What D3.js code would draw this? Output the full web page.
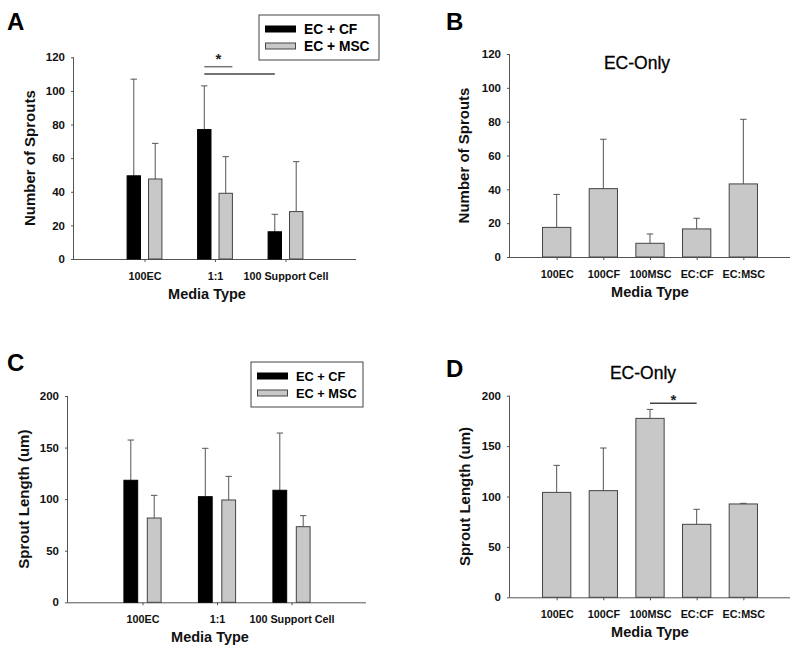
<!DOCTYPE html>
<html>
<head>
<meta charset="utf-8">
<script src="https://cdn.jsdelivr.net/npm/d3@7"></script>
<style>
  html, body { margin: 0; padding: 0; background: #fff; }
  svg { display: block; font-family: "Liberation Sans", Arial, sans-serif; }
</style>
</head>
<body>
<svg id="chart" width="800" height="658"></svg>
<script>
// ---------- DATA ----------
const mixedCategories = ["100EC", "1:1", "100 Support Cell"];
const ecOnlyCategories = ["100EC", "100CF", "100MSC", "EC:CF", "EC:MSC"];
const seriesNames = ["EC + CF", "EC + MSC"];

// Panel A: number of sprouts (mean, SD)
const sproutsCF = [49.5, 77.0, 16.2];
const sproutsCFErr = [57.5, 26.0, 10.4];
const sproutsMSC = [47.6, 39.1, 28.2];
const sproutsMSCErr = [21.2, 21.8, 29.7];

// Panel B: EC-only number of sprouts
const sproutsEC = [17.5, 40.4, 8.1, 16.6, 43.2];
const sproutsECErr = [19.5, 29.2, 5.5, 6.3, 38.2];

// Panel C: sprout length (um)
const lengthCF = [118.3, 102.4, 108.6];
const lengthCFErr = [39.0, 46.9, 55.5];
const lengthMSC = [81.7, 99.2, 73.3];
const lengthMSCErr = [22.0, 22.9, 10.7];

// Panel D: EC-only sprout length (um)
const lengthEC = [104.1, 105.8, 177.5, 72.4, 92.6];
const lengthECErr = [26.8, 42.3, 8.9, 14.9, 0.6];

const sproutTicks = [0, 20, 40, 60, 80, 100, 120];
const lengthTicks = [0, 50, 100, 150, 200];

// significance brackets: [fromCategory, fromSeries, toCategory, toSeries, yValue, colour]
const sigA = [
  ["1:1", 0, "1:1", 1, 114.4, "#777"],
  ["1:1", 0, "100 Support Cell", 0, 110.0, "#444"]
];
const sigD = [
  ["100MSC", 0, "EC:CF", 0, 192.4, "#444"]
];

// ---------- DRAWING ----------
const svg = d3.select("#chart");
const FONT = "'Liberation Sans', Arial, sans-serif";
const GRAY = "#c8c8c8";
const AXIS = "#555";

function drawPanel(cfg) {
  const g = svg.append("g");
  const x = d3.scalePoint().domain(cfg.categories).range([cfg.x0, cfg.x1]).padding(1);
  const y = d3.scaleLinear().domain([0, cfg.ymax]).range([cfg.y0, cfg.y1]);
  const step = x.step();

  // axes
  const yAxis = d3.axisLeft(y).tickValues(cfg.ticks).tickSize(3).tickPadding(6).tickFormat(d3.format("d"));
  const ya = g.append("g").attr("transform", `translate(${cfg.x0},0)`).call(yAxis)
    .attr("font-family", FONT).attr("font-size", 11.5).attr("font-weight", "bold");
  ya.select(".domain").attr("stroke", AXIS).attr("d", `M-0.5,${cfg.y0}V${cfg.y1}`);
  ya.selectAll(".tick line").attr("stroke", AXIS);
  ya.selectAll(".tick text").attr("fill", "#111");

  const xAxis = d3.axisBottom(x).tickSize(3).tickPadding(10);
  const xa = g.append("g").attr("transform", `translate(0,${cfg.y0})`).call(xAxis)
    .attr("font-family", FONT).attr("font-size", 10.8).attr("font-weight", "bold");
  xa.select(".domain").attr("stroke", AXIS).attr("d", `M${cfg.x0},0.5H${cfg.x1}`);
  xa.selectAll(".tick line").attr("stroke", AXIS);
  xa.selectAll(".tick text").attr("fill", "#111");

  // bars
  const nS = cfg.series.length;
  const bw = step * cfg.barFrac;
  const off = (si) => nS === 1 ? 0 : (si === 0 ? -1 : 1) * step * cfg.offFrac;
  cfg.series.forEach((s, si) => {
    const data = s.values.map((v, i) => ({ c: cfg.categories[i], v, e: s.errs[i] }));
    const sg = g.append("g");
    sg.selectAll("line.err").data(data).join("line")
      .attr("x1", d => x(d.c) + off(si)).attr("x2", d => x(d.c) + off(si))
      .attr("y1", d => y(d.v)).attr("y2", d => y(d.v + d.e))
      .attr("stroke", "#555").attr("stroke-width", 1);
    sg.selectAll("line.cap").data(data).join("line")
      .attr("x1", d => x(d.c) + off(si) - 3.2).attr("x2", d => x(d.c) + off(si) + 3.2)
      .attr("y1", d => y(d.v + d.e)).attr("y2", d => y(d.v + d.e))
      .attr("stroke", "#555").attr("stroke-width", 1);
    sg.selectAll("rect").data(data).join("rect")
      .attr("x", d => x(d.c) + off(si) - bw / 2)
      .attr("y", d => y(d.v))
      .attr("width", bw)
      .attr("height", d => y(0) - y(d.v))
      .attr("fill", s.color)
      .attr("stroke", s.color === "#000" ? "#000" : "#444")
      .attr("stroke-width", 1);
  });

  // significance
  (cfg.sig || []).forEach(sg => {
    const xa1 = x(sg[0]) + off(sg[1]);
    let xa2 = x(sg[2]) + off(sg[3]);
    if (sg[0] === sg[2]) xa2 += bw / 2;
    g.append("line").attr("x1", xa1).attr("x2", xa2)
      .attr("y1", y(sg[4])).attr("y2", y(sg[4]))
      .attr("stroke", sg[5]).attr("stroke-width", 1.5);
  });
  if (cfg.star !== undefined) {
    const s0 = cfg.sig[0];
    const xa1 = x(s0[0]) + off(s0[1]);
    let xa2 = x(s0[2]) + off(s0[3]);
    if (s0[0] === s0[2]) xa2 += bw / 2;
    g.append("text").attr("x", (xa1 + xa2) / 2).attr("y", y(s0[4]) + cfg.star)
      .attr("text-anchor", "middle").attr("font-size", 15).attr("font-weight", "bold").attr("fill", "#222")
      .text("*");
  }

  // titles
  g.append("text")
    .attr("transform", `translate(${cfg.ytx},${(cfg.y0 + cfg.y1) / 2 + cfg.ytdy}) rotate(-90)`)
    .attr("text-anchor", "middle").attr("font-size", 15).attr("font-weight", "bold").attr("fill", "#111")
    .text(cfg.ytitle);
  g.append("text")
    .attr("x", (cfg.x0 + cfg.x1) / 2 + cfg.xtdx).attr("y", cfg.y0 + 40)
    .attr("text-anchor", "middle").attr("font-size", 14.5).attr("font-weight", "bold").attr("fill", "#111")
    .text("Media Type");
  g.append("text").attr("x", cfg.lx).attr("y", cfg.ly)
    .attr("font-size", 24).attr("font-weight", "bold").attr("fill", "#000").text(cfg.letter);
  if (cfg.title) {
    g.append("text").attr("x", cfg.title[0]).attr("y", cfg.title[1])
      .attr("text-anchor", "middle").attr("font-size", 17.5).attr("fill", "#000")
      .attr("stroke", "#000").attr("stroke-width", 0.3).text("EC-Only");
  }
  if (cfg.legend) {
    const [bx, by, bwid, fs] = cfg.legend;
    const lg = g.append("g").attr("transform", `translate(${bx},${by})`);
    lg.append("rect").attr("x", 0).attr("y", 0).attr("width", bwid).attr("height", 45)
      .attr("fill", "#fff").attr("stroke", "#444").attr("stroke-width", 1);
    cfg.series.forEach((s, si) => {
      lg.append("rect").attr("x", 6.5).attr("y", 11 + si * 17).attr("width", 30).attr("height", 6)
        .attr("fill", s.color).attr("stroke", s.color === "#000" ? "#000" : "#444");
      lg.append("text").attr("x", 45).attr("y", 19 + si * 17)
        .attr("font-size", fs).attr("font-weight", "bold").attr("fill", "#000").text(seriesNames[si]);
    });
  }
}

drawPanel({
  letter: "A", lx: 7, ly: 30,
  categories: mixedCategories, x0: 74, x1: 356, y0: 259, y1: 57.3, ymax: 120, ticks: sproutTicks,
  series: [{ values: sproutsCF, errs: sproutsCFErr, color: "#000" }, { values: sproutsMSC, errs: sproutsMSCErr, color: GRAY }],
  barFrac: 0.19, offFrac: 0.152,
  ytitle: "Number of Sprouts", ytx: 35, ytdy: 0, xtdx: -8,
  legend: [259, 15, 120, 13.8], sig: sigA, star: -3
});

drawPanel({
  letter: "B", lx: 446, ly: 29.5,
  categories: ecOnlyCategories, x0: 510, x1: 790, y0: 257, y1: 54, ymax: 120, ticks: sproutTicks,
  series: [{ values: sproutsEC, errs: sproutsECErr, color: GRAY }],
  barFrac: 0.606, offFrac: 0,
  ytitle: "Number of Sprouts", ytx: 469, ytdy: 0, xtdx: 0,
  title: [637, 68.5]
});

drawPanel({
  letter: "C", lx: 7, ly: 371,
  categories: mixedCategories, x0: 68, x1: 366, y0: 602.3, y1: 396, ymax: 200, ticks: lengthTicks,
  series: [{ values: lengthCF, errs: lengthCFErr, color: "#000" }, { values: lengthMSC, errs: lengthMSCErr, color: GRAY }],
  barFrac: 0.185, offFrac: 0.157,
  ytitle: "Sprout Length (um)", ytx: 28.5, ytdy: 0, xtdx: -7,
  legend: [251, 362, 112, 12.8]
});

drawPanel({
  letter: "D", lx: 446, ly: 377,
  categories: ecOnlyCategories, x0: 510, x1: 790, y0: 597.3, y1: 395.7, ymax: 200, ticks: lengthTicks,
  series: [{ values: lengthEC, errs: lengthECErr, color: GRAY }],
  barFrac: 0.606, offFrac: 0,
  ytitle: "Sprout Length (um)", ytx: 470, ytdy: 0, xtdx: 0,
  title: [643, 378.5], sig: sigD, star: 2
});
</script>
</body>
</html>
